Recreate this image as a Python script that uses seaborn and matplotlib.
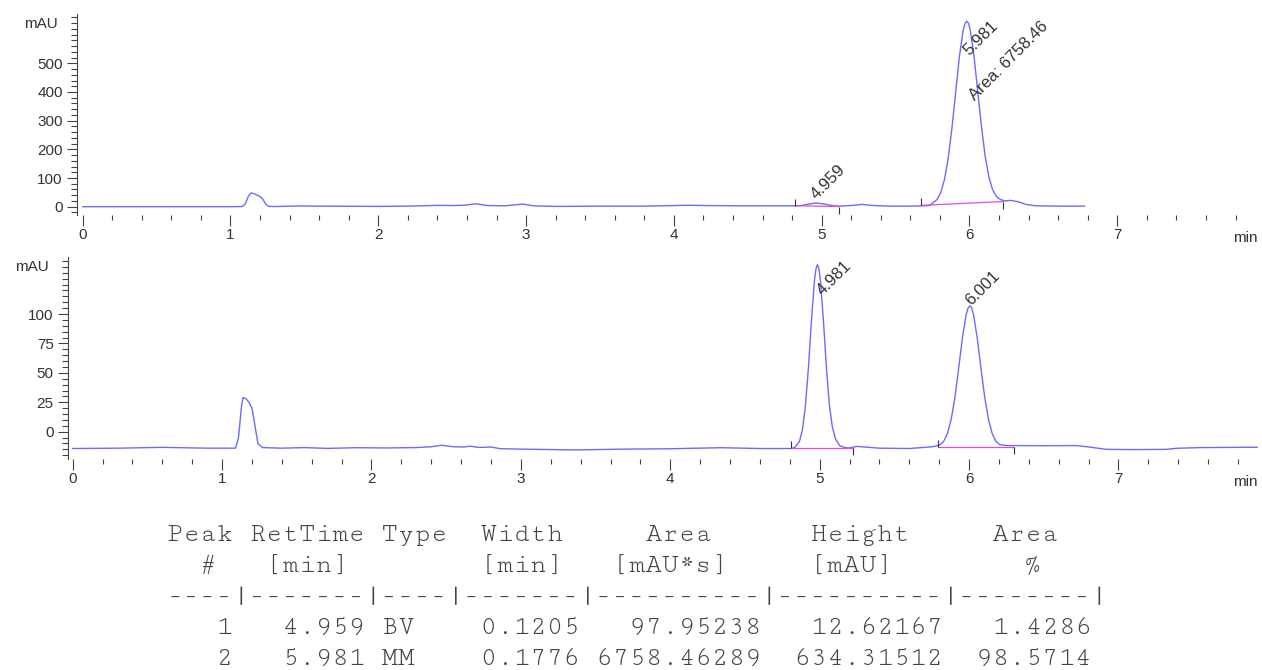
import numpy as np
import pandas as pd
import matplotlib
matplotlib.use("Agg")
import matplotlib.pyplot as plt
import seaborn as sns

# ---- run 1 (top trace): time [min], signal [mAU]
top_time = [0.00, 0.50, 1.00, 1.08, 1.10, 1.12, 1.14, 1.16, 1.18, 1.20, 1.22, 1.24, 1.26, 1.30,
            1.45, 1.60, 1.80, 2.00, 2.20, 2.40, 2.50, 2.58, 2.66, 2.74, 2.85, 2.92, 2.98, 3.05,
            3.20, 3.50, 3.80, 4.10, 4.20, 4.50, 4.80, 4.85, 4.90, 4.96, 5.02, 5.08, 5.12, 5.20,
            5.27, 5.35, 5.45, 5.60, 5.70, 5.731, 5.781, 5.806, 5.831, 5.856, 5.881, 5.906, 5.931,
            5.956, 5.969, 5.981, 5.994, 6.006, 6.031, 6.056, 6.081, 6.106, 6.131, 6.156, 6.181,
            6.21, 6.24, 6.28, 6.33, 6.38, 6.45, 6.60, 6.78]
top_mau = [0, 0, 0, 0.5, 10, 35, 48, 45, 40, 36, 25, 8, 1, 0.5,
           2.5, 2, 1.5, 1, 2, 4.5, 4, 5, 10, 4, 3, 6, 9, 3,
           1, 2, 2, 5, 4, 3, 3, 3, 8, 13, 9, 3, 2, 4,
           8, 4, 2, 2, 3, 5, 25, 50, 96, 169, 273, 397, 520,
           612, 638, 647, 639, 614, 523, 401, 279, 176, 104, 60, 36,
           25, 20, 22, 17, 8, 3, 2, 2]

# ---- run 2 (bottom trace)
bot_time = [0.00, 0.30, 0.60, 0.90, 1.09, 1.11, 1.13, 1.14, 1.16, 1.18, 1.20, 1.22, 1.24, 1.27,
            1.40, 1.55, 1.70, 1.90, 2.10, 2.30, 2.40, 2.47, 2.55, 2.62, 2.66, 2.72, 2.80, 2.86,
            3.00, 3.36, 3.70, 4.00, 4.34, 4.60, 4.81, 4.835, 4.865, 4.885, 4.905, 4.925, 4.945,
            4.965, 4.975, 4.985, 4.995, 5.005, 5.025, 5.045, 5.065, 5.085, 5.105, 5.135, 5.17,
            5.20, 5.25, 5.40, 5.60, 5.755, 5.805, 5.83, 5.855, 5.88, 5.905, 5.93, 5.955, 5.98,
            5.993, 6.005, 6.018, 6.03, 6.055, 6.08, 6.105, 6.13, 6.155, 6.18, 6.205, 6.255,
            6.30, 6.50, 6.72, 6.79, 6.92, 7.10, 7.32, 7.39, 7.55, 7.93]
bot_mau = [-14.3, -14.0, -13.3, -14.0, -14.0, -5, 22, 29, 28, 25, 20, 5, -10, -13.5,
           -14, -13.5, -14.2, -13.6, -13.8, -13.5, -12.8, -11.5, -12.8, -13.0, -12.3, -13.4, -13.0, -14.4,
           -14.8, -15.5, -14.8, -14.5, -13.6, -14.3, -14.3, -13.2, -8.2, 2.0, 22.4, 54.9, 94.4,
           128.4, 138.3, 142, 138.3, 128.4, 94.4, 54.9, 22.4, 4.0, -6.0, -12.0, -13.5,
           -13.8, -12.5, -14.0, -14.3, -12.8, -11.2, -8.2, -1.7, 10.3, 29.0, 53.5, 79.3, 99.3,
           105, 107, 105, 99.3, 79.3, 53.5, 29.0, 10.3, -1.7, -8.2, -11.0, -11.8,
           -11.8, -11.9, -11.8, -12.8, -15.0, -15.2, -15.0, -14.1, -13.5, -13.2]

# integration baselines: start/end time and level
top_base_t = [(4.82, 5.115), (5.673, 6.23)]
top_base_v = [(3.5, 0.5), (4.5, 18.0)]
bot_base_t = [(4.81, 5.22), (5.795, 6.30)]
bot_base_v = [(-14.2, -14.2), (-12.8, -12.8)]

# peak labels
top_labels = ["4.959", "5.981", "Area: 6758.46"]
top_label_at = [(4.959, 13), (5.981, 647), (5.981, 647)]
top_label_off = [(0.8, 2.2), (2.0, -25.4), (6.3, -57.6)]
bot_labels = ["4.981", "6.001"]
bot_label_at = [(4.985, 142), (6.005, 107)]
bot_label_off = [(3.5, -22.8), (1.0, 0.0)]

# results table
peak_no = [1, 2]
ret_time = [4.959, 5.981]
peak_type = ["BV", "MM"]
peak_width = [0.1205, 0.1776]
peak_area = [97.95238, 6758.46289]
peak_height = [12.62167, 634.31512]
area_pct = [1.4286, 98.5714]

trace_c = "#6b6bff"
base_c = "#e04ce0"
text_c = "#333333"
fs = 11

sns.set_theme(style="white")
plt.rcParams["font.family"] = ["Liberation Sans", "DejaVu Sans"]

W, H = 1262, 670
fig = plt.figure(figsize=(W / 100, H / 100), dpi=100)
ax1 = fig.add_axes([77.3 / W, 1 - 215 / H, (1258 - 77.3) / W, 201 / H])
ax2 = fig.add_axes([68.3 / W, 1 - 459 / H, (1258 - 68.3) / W, (459 - 256.7) / H])

df1 = pd.DataFrame({"t": top_time, "mAU": top_mau})
df2 = pd.DataFrame({"t": bot_time, "mAU": bot_mau})
sns.lineplot(data=df1, x="t", y="mAU", ax=ax1, color=trace_c, lw=1.0, estimator=None)
sns.lineplot(data=df2, x="t", y="mAU", ax=ax2, color=trace_c, lw=1.0, estimator=None)

for ax, bt, bv in [(ax1, top_base_t, top_base_v), (ax2, bot_base_t, bot_base_v)]:
    for (t0, t1), (v0, v1) in zip(bt, bv):
        ax.plot([t0, t1], [v0, v1], color=base_c, lw=0.9)
        ax.plot([t0], [v0], marker=2, ms=5, mew=0.8, color="#333333")
        ax.plot([t1], [v1], marker=3, ms=5, mew=0.8, color="#333333")

for lab, at, off in zip(top_labels, top_label_at, top_label_off):
    ax1.annotate(lab, xy=at, xytext=off, textcoords="offset points", rotation=45,
                 rotation_mode="anchor", ha="left", va="baseline", fontsize=12, color=text_c)
for lab, at, off in zip(bot_labels, bot_label_at, bot_label_off):
    ax2.annotate(lab, xy=at, xytext=off, textcoords="offset points", rotation=45,
                 rotation_mode="anchor", ha="left", va="baseline", fontsize=12, color=text_c)

ax1.set_xlim(-0.0365, 7.952)
ax1.set_ylim(-29, 672)
ax2.set_xlim(-0.0295, 7.934)
ax2.set_ylim(-23.2, 148.7)

ax1.set_yticks(np.arange(0, 501, 100))
ax1.set_yticks(np.arange(-20, 661, 20), minor=True)
ax2.set_yticks(np.arange(0, 101, 25))
ax2.set_yticks(np.arange(-20, 146, 5), minor=True)

for ax in (ax1, ax2):
    ax.set_xlabel("")
    ax.set_ylabel("")
    for s in ("top", "right", "bottom"):
        ax.spines[s].set_visible(False)
    ax.spines["left"].set_color("#444444")
    ax.spines["left"].set_linewidth(0.8)
    ax.set_xticks(range(8))
    ax.set_xticks(np.arange(0, 7.9, 0.2), minor=True)
    ax.tick_params(axis="x", which="major", direction="out", length=8, width=0.8,
                   pad=1.5, labelsize=fs, colors="#444444", labelcolor=text_c, bottom=True)
    ax.tick_params(axis="x", which="minor", direction="out", length=3.5, width=0.8,
                   colors="#444444", bottom=True)
    ax.tick_params(axis="y", which="major", direction="out", length=7.5, width=0.8,
                   pad=3, labelsize=fs, colors="#444444", labelcolor=text_c, left=True)
    ax.tick_params(axis="y", which="minor", direction="out", length=4, width=0.8,
                   colors="#444444", left=True)
    ax.grid(False)
    ax.text(1.0, -0.115, "min", transform=ax.transAxes, ha="right", va="center",
            fontsize=fs, color=text_c)

fig.text(24 / W, 1 - 24 / H, "mAU", ha="left", va="center", fontsize=fs, color=text_c)
fig.text(15 / W, 1 - 266.7 / H, "mAU", ha="left", va="center", fontsize=fs, color=text_c)

# text report below the plots
rows = ["Peak RetTime Type  Width     Area      Height     Area  ",
        "  #   [min]        [min]   [mAU*s]     [mAU]        %   ",
        "----|-------|----|-------|----------|----------|--------|"]
for n, rt, ty, w, a, h, p in zip(peak_no, ret_time, peak_type, peak_width,
                                 peak_area, peak_height, area_pct):
    rows.append(f"{n:4d} {rt:7.3f} {ty:<4s} {w:7.4f} {a:10.5f} {h:10.5f} {p:8.4f}")

mono = ["Cutive Mono", "Courier Prime", "Liberation Mono", "DejaVu Sans Mono"]
# size the monospace text so a 57-char line spans the same width as in the report
probe = fig.text(0, 0, rows[2], family=mono, fontsize=20)
fig.canvas.draw()
mono_fs = 20 * (57 * 16.45) / probe.get_window_extent().width
probe.remove()

for i, line in enumerate(rows):
    fig.text(167 / W, 1 - (541 + i * 31) / H, line, ha="left", va="baseline",
             family=mono, fontsize=mono_fs, color="#444444")

fig.savefig("out.png", dpi=100, facecolor="white")
